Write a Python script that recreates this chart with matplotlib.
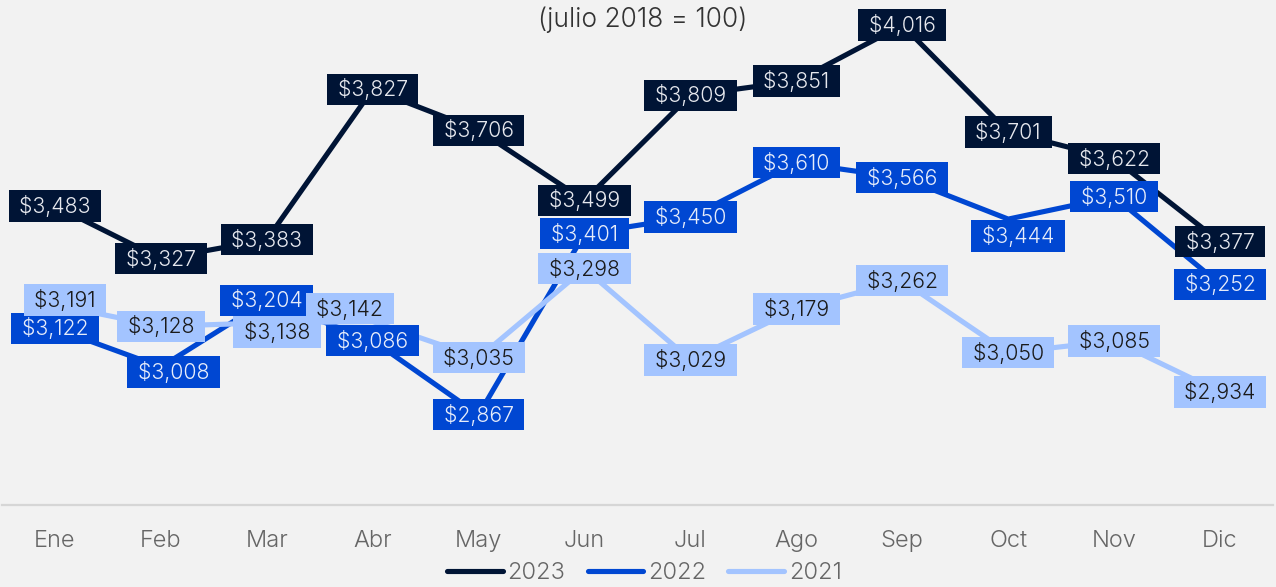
import matplotlib
matplotlib.use("Agg")
import matplotlib.pyplot as plt

months = ["Ene", "Feb", "Mar", "Abr", "May", "Jun", "Jul", "Ago", "Sep", "Oct", "Nov", "Dic"]
years = ["2023", "2022", "2021"]
v2023 = [3483, 3327, 3383, 3827, 3706, 3499, 3809, 3851, 4016, 3701, 3622, 3377]
v2022 = [3122, 3008, 3204, 3086, 2867, 3401, 3450, 3610, 3566, 3444, 3510, 3252]
v2021 = [3191, 3128, 3138, 3142, 3035, 3298, 3029, 3179, 3262, 3050, 3085, 2934]
title = "(julio 2018 = 100)"

series = [v2023, v2022, v2021]
colors = ["#001435", "#0047d2", "#a3c4ff"]
text_colors = ["#e6e8ee", "#e6ecfa", "#1a1a1a"]
# label nudges in pixels (dx right, dy up) to avoid overlaps
nudges = {
    (1, 1): (13, -5),
    (1, 9): (10, -17),
    (2, 0): (10, 5),
    (2, 2): (10, -9),
    (2, 3): (-23, 13),
}

plt.rcParams['font.family'] = ['Inter', 'DejaVu Sans']
plt.rcParams['font.weight'] = 300
bg = "#f2f2f2"
fig = plt.figure(figsize=(12.76, 5.87), dpi=100, facecolor=bg)
ax = fig.add_axes([2 / 1276, 1 - 505 / 587, 1271 / 1276, 505 / 587], facecolor=bg)

x = list(range(len(months)))
for i, (vals, c) in enumerate(zip(series, colors)):
    ax.plot(x, vals, color=c, lw=3.7, solid_capstyle='round', solid_joinstyle='miter',
            zorder=2, label=years[i])

for i, (vals, c, tc) in enumerate(zip(series, colors, text_colors)):
    for j, v in enumerate(vals):
        dx, dy = nudges.get((i, j), (0, 0))
        ax.annotate(f" ${v:,} ", (j, v), xytext=(dx, dy), textcoords='offset pixels',
                    ha='center', va='center', fontsize=15.3, color=tc,
                    zorder=3 + i,
                    bbox=dict(boxstyle='square,pad=0.22', fc=c, ec='none'))

ax.set_xlim(-0.5, 11.5)
ax.set_ylim(2601, 4090)
ax.set_xticks(x)
ax.set_xticklabels(months, fontsize=17, color="#666666")
ax.tick_params(axis='x', length=0, pad=18)
ax.set_yticks([])
for s in ['top', 'left', 'right']:
    ax.spines[s].set_visible(False)
ax.spines['bottom'].set_color("#d6d6d6")
ax.spines['bottom'].set_linewidth(1.6)

fig.text(0.504, 1 - 20 / 587, title, ha='center', va='center', fontsize=19, color="#333333")

leg = fig.legend(loc='center', bbox_to_anchor=(0.505, 1 - 573 / 587), ncol=3, frameon=False,
                 fontsize=17, handlelength=2.35, handletextpad=0.2, columnspacing=0.95,
                 borderaxespad=0)
for t in leg.get_texts():
    t.set_color("#666666")
for h in leg.get_lines():
    h.set_linewidth(3.7)
    h.set_solid_capstyle('round')

fig.savefig("out.png", dpi=100, facecolor=bg)
